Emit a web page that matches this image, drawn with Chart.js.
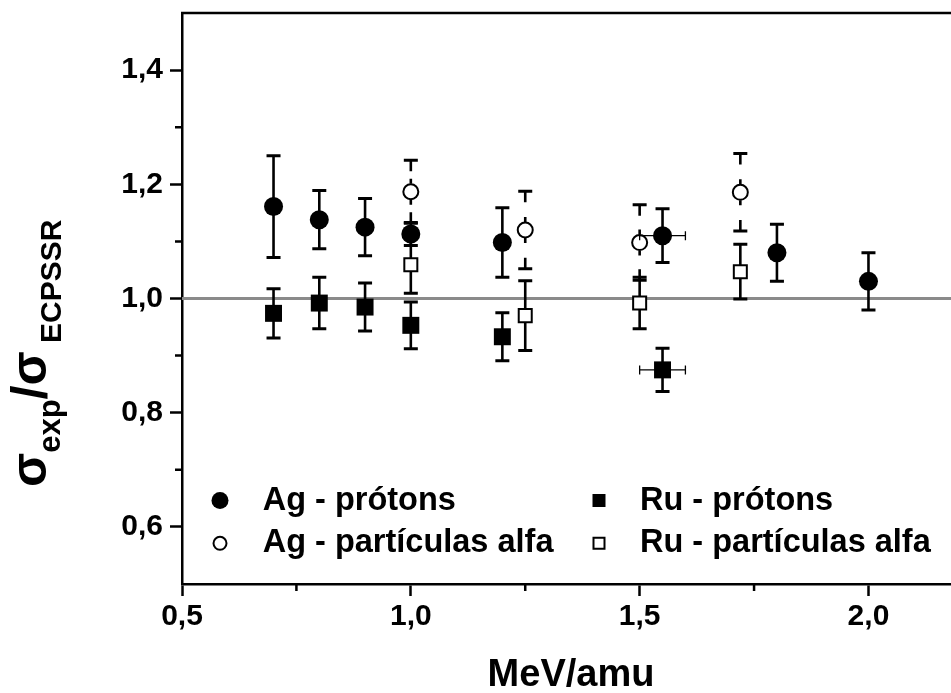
<!DOCTYPE html>
<html>
<head>
<meta charset="utf-8">
<title>σexp/σECPSSR vs MeV/amu</title>
<script src="https://cdn.jsdelivr.net/npm/chart.js@4.4.1/dist/chart.umd.min.js"></script>
<style>
  html, body { margin: 0; padding: 0; overflow: hidden; background: #fff; }
  #wrap { width: 975px; height: 693px; }
</style>
</head>
<body>
<div id="wrap"><canvas id="c" width="975" height="693" style="width:975px;height:693px"></canvas></div>
<script>
// Ag, protons
const agProtonX    = [0.7, 0.8, 0.9, 1.0, 1.2, 1.55, 1.8, 2.0];
const agProtonY    = [1.161, 1.138, 1.125, 1.113, 1.098, 1.110, 1.080, 1.030];
const agProtonErr  = [0.089, 0.051, 0.050, 0.020, 0.061, 0.047, 0.050, 0.050];
const agProtonXErr = [0, 0, 0, 0, 0, 0.05, 0, 0];

// Ag, alpha particles
const agAlphaX   = [1.0, 1.25, 1.5, 1.72];
const agAlphaY   = [1.187, 1.120, 1.098, 1.186];
const agAlphaErr = [0.055, 0.068, 0.066, 0.068];

// Ru, protons
const ruProtonX    = [0.7, 0.8, 0.9, 1.0, 1.2, 1.55];
const ruProtonY    = [0.974, 0.992, 0.985, 0.953, 0.933, 0.875];
const ruProtonErr  = [0.043, 0.045, 0.042, 0.041, 0.042, 0.038];
const ruProtonXErr = [0, 0, 0, 0, 0, 0.05];

// Ru, alpha particles
const ruAlphaX   = [1.0, 1.25, 1.5, 1.72];
const ruAlphaY   = [1.059, 0.970, 0.992, 1.047];
const ruAlphaErr = [0.050, 0.061, 0.045, 0.048];

// reference ratio and axes
const refRatio = 1.0;
const xRange = [0.5, 2.2];
const yRange = [0.5, 1.5];
const xTicks = [0.5, 1.0, 1.5, 2.0];
const yTicks = [0.6, 0.8, 1.0, 1.2, 1.4];
const xMinorTicks = [0.75, 1.25, 1.75];
const yMinorTicks = [0.7, 0.9, 1.1, 1.3];

const legendLabels = ['Ag - prótons', 'Ag - partículas alfa', 'Ru - prótons', 'Ru - partículas alfa'];

const FONT = '"Liberation Sans", Arial, Helvetica, sans-serif';
Chart.defaults.font.family = FONT;
Chart.defaults.color = '#000';

function pts(xs, ys, ey, ex) {
  return xs.map((x, i) => ({ x: x, y: ys[i], ey: ey ? ey[i] : 0, ex: ex ? ex[i] : 0 }));
}

function fmt(v) { return Number(v).toFixed(1).replace('.', ','); }

// error bars, drawn right before the markers of their own dataset
const errorBars = {
  id: 'errorBars',
  beforeDatasetDraw(chart, args) {
    const ds = chart.data.datasets[args.index];
    if (!ds.errorBars) return;
    const ctx = chart.ctx;
    const xs = chart.scales.x, ys = chart.scales.y;
    const gap = ds.errorGap;      // hollow circles: stem broken near the marker
    ctx.save();
    ctx.strokeStyle = '#000';
    ds.data.forEach(p => {
      const px = xs.getPixelForValue(p.x);
      const py = ys.getPixelForValue(p.y);
      if (p.ey) {
        const top = ys.getPixelForValue(p.y + p.ey);
        const bot = ys.getPixelForValue(p.y - p.ey);
        ctx.lineWidth = 2.6;
        ctx.beginPath();
        if (gap) {
          const stem = 11, stubIn = 8, stubOut = 13;
          ctx.moveTo(px, top); ctx.lineTo(px, Math.min(top + stem, py - stubIn));
          ctx.moveTo(px, py - stubOut); ctx.lineTo(px, py - stubIn);
          ctx.moveTo(px, bot); ctx.lineTo(px, Math.max(bot - stem, py + stubIn));
          ctx.moveTo(px, py + stubOut); ctx.lineTo(px, py + stubIn);
        } else {
          ctx.moveTo(px, top); ctx.lineTo(px, bot);
        }
        ctx.stroke();
        ctx.lineWidth = 3;
        ctx.beginPath();
        ctx.moveTo(px - 7, top); ctx.lineTo(px + 7, top);
        ctx.moveTo(px - 7, bot); ctx.lineTo(px + 7, bot);
        ctx.stroke();
      }
      if (p.ex) {
        const l = xs.getPixelForValue(p.x - p.ex);
        const r = xs.getPixelForValue(p.x + p.ex);
        ctx.lineWidth = 1.3;
        ctx.beginPath();
        ctx.moveTo(l, py); ctx.lineTo(r, py);
        ctx.moveTo(l, py - 4.5); ctx.lineTo(l, py + 4.5);
        ctx.moveTo(r, py - 4.5); ctx.lineTo(r, py + 4.5);
        ctx.stroke();
      }
    });
    ctx.restore();
  }
};

// frame top, minor ticks, y title, legend
const decorations = {
  id: 'decorations',
  afterDraw(chart) {
    const ctx = chart.ctx;
    const a = chart.chartArea;
    const xs = chart.scales.x, ys = chart.scales.y;
    ctx.save();
    ctx.strokeStyle = '#000';
    ctx.lineWidth = 2.5;
    ctx.beginPath();
    ctx.moveTo(a.left - 1, a.top); ctx.lineTo(a.right, a.top); ctx.lineTo(a.right, a.bottom);
    ctx.stroke();

    ctx.lineWidth = 2.5;
    ctx.beginPath();
    xMinorTicks.forEach(v => {
      const px = xs.getPixelForValue(v);
      ctx.moveTo(px, a.bottom); ctx.lineTo(px, a.bottom + 7);
    });
    yMinorTicks.forEach(v => {
      const py = ys.getPixelForValue(v);
      ctx.moveTo(a.left, py); ctx.lineTo(a.left - 7, py);
    });
    ctx.stroke();

    // y title: σexp/σECPSSR, reading upwards
    ctx.save();
    ctx.translate(46, 487);
    ctx.rotate(-Math.PI / 2);
    ctx.fillStyle = '#000';
    ctx.textAlign = 'left';
    ctx.textBaseline = 'alphabetic';
    const parts = [
      { t: 'σ', size: 50, dy: 0 },
      { t: 'exp', size: 31, dy: 14 },
      { t: '/', size: 50, dy: 0 },
      { t: 'σ', size: 50, dy: 0 },
      { t: ' ECPSSR', size: 30, dy: 15 }
    ];
    let x = 0;
    parts.forEach(p => {
      ctx.font = 'bold ' + p.size + 'px ' + FONT;
      ctx.fillText(p.t, x, p.dy);
      x += ctx.measureText(p.t).width;
    });
    ctx.restore();

    // legend
    const items = [
      { shape: 'circle', fill: true,  mx: 220, my: 500.5, tx: 262.7, ty: 510 },
      { shape: 'circle', fill: false, mx: 220, my: 543.3, tx: 262.7, ty: 551.7 },
      { shape: 'rect',   fill: true,  mx: 599, my: 500.5, tx: 640,   ty: 510 },
      { shape: 'rect',   fill: false, mx: 599, my: 543.3, tx: 640,   ty: 551.7 }
    ];
    ctx.font = 'bold 32.5px ' + FONT;
    ctx.textAlign = 'left';
    ctx.textBaseline = 'alphabetic';
    items.forEach((it, i) => {
      ctx.beginPath();
      if (it.shape === 'circle') {
        ctx.arc(it.mx, it.my, it.fill ? 8.5 : 6.5, 0, Math.PI * 2);
      } else {
        const h = it.fill ? 6.5 : 5.5;
        ctx.rect(it.mx - h, it.my - h, 2 * h, 2 * h);
      }
      if (it.fill) { ctx.fillStyle = '#000'; ctx.fill(); }
      else { ctx.fillStyle = '#fff'; ctx.fill(); ctx.lineWidth = 2; ctx.strokeStyle = '#000'; ctx.stroke(); }
      ctx.fillStyle = '#000';
      ctx.fillText(legendLabels[i], it.tx, it.ty);
    });
    ctx.restore();
  }
};

new Chart(document.getElementById('c'), {
  type: 'scatter',
  data: {
    datasets: [
      {
        label: 'ref',
        type: 'line',
        data: [{ x: xRange[0], y: refRatio }, { x: xRange[1], y: refRatio }],
        borderColor: '#8a8a8a',
        borderWidth: 3,
        pointRadius: 0,
        order: 10
      },
      {
        label: legendLabels[2],
        data: pts(ruProtonX, ruProtonY, ruProtonErr, ruProtonXErr),
        pointStyle: 'rect', pointRadius: 12,
        backgroundColor: '#000', borderColor: '#000', borderWidth: 0,
        errorBars: true, order: 4
      },
      {
        label: legendLabels[3],
        data: pts(ruAlphaX, ruAlphaY, ruAlphaErr),
        pointStyle: 'rect', pointRadius: 9.2,
        backgroundColor: '#fff', borderColor: '#000', borderWidth: 2,
        errorBars: true, order: 3
      },
      {
        label: legendLabels[1],
        data: pts(agAlphaX, agAlphaY, agAlphaErr),
        pointStyle: 'circle', pointRadius: 7.5,
        backgroundColor: '#fff', borderColor: '#000', borderWidth: 2,
        errorBars: true, errorGap: true, order: 2
      },
      {
        label: legendLabels[0],
        data: pts(agProtonX, agProtonY, agProtonErr, agProtonXErr),
        pointStyle: 'circle', pointRadius: 9.5,
        backgroundColor: '#000', borderColor: '#000', borderWidth: 0,
        errorBars: true, order: 1
      }
    ]
  },
  options: {
    responsive: false,
    animation: false,
    events: [],
    layout: { padding: { top: 13, right: 15, left: 0, bottom: 0 } },
    plugins: { legend: { display: false }, tooltip: { enabled: false } },
    scales: {
      x: {
        type: 'linear',
        min: xRange[0], max: xRange[1],
        afterBuildTicks(s) { s.ticks = xTicks.map(v => ({ value: v })); },
        afterFit(s) { s.height = 109; s.paddingLeft = 0; s.paddingRight = 0; },
        border: { display: true, color: '#000', width: 2.5 },
        grid: { drawOnChartArea: false, drawTicks: true, tickLength: 12, tickWidth: 2.5, tickColor: '#000' },
        ticks: {
          maxRotation: 0, autoSkip: false,
          padding: 3,
          font: { size: 30, weight: 'bold' },
          color: '#000',
          callback: v => fmt(v)
        },
        title: {
          display: true, text: 'MeV/amu', color: '#000',
          font: { size: 38, weight: 'bold', lineHeight: 0.9 },
          padding: { top: 0, bottom: 0 }
        }
      },
      y: {
        type: 'linear',
        min: yRange[0], max: yRange[1],
        afterBuildTicks(s) { s.ticks = yTicks.map(v => ({ value: v })); },
        afterFit(s) { s.width = 182; s.paddingTop = 0; s.paddingBottom = 0; },
        border: { display: true, color: '#000', width: 2.5 },
        grid: { drawOnChartArea: false, drawTicks: true, tickLength: 12, tickWidth: 2.5, tickColor: '#000' },
        ticks: {
          autoSkip: false,
          padding: 7,
          font: { size: 30, weight: 'bold' },
          color: '#000',
          callback: v => fmt(v)
        }
      }
    }
  },
  plugins: [errorBars, decorations]
});
</script>
</body>
</html>
